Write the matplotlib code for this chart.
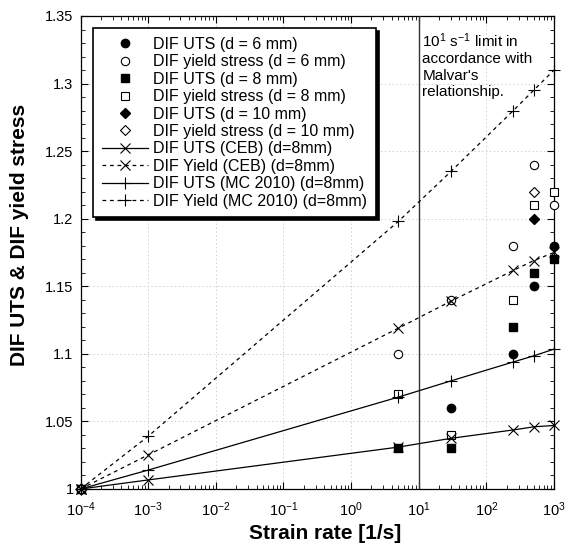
import numpy as np
import matplotlib
matplotlib.use("Agg")
import matplotlib.pyplot as plt
from matplotlib.ticker import FixedLocator, FixedFormatter, LogFormatterSciNotation, MultipleLocator

plt.rcParams["font.family"] = ["Liberation Sans", "DejaVu Sans"]
plt.rcParams["mathtext.fontset"] = "custom"
plt.rcParams["mathtext.rm"] = "Liberation Sans"
plt.rcParams["mathtext.it"] = "Liberation Sans:italic"
plt.rcParams["mathtext.bf"] = "Liberation Sans:bold"
plt.rcParams["mathtext.default"] = "regular"

# Experimental dynamic increase factors
uts6_rate = [1e-4, 30, 250, 500, 1000]
uts6_dif = [1.0, 1.06, 1.10, 1.15, 1.18]
yld6_rate = [1e-4, 5, 30, 250, 500, 1000]
yld6_dif = [1.0, 1.10, 1.14, 1.18, 1.24, 1.21]
uts8_rate = [1e-4, 5, 30, 250, 500, 1000]
uts8_dif = [1.0, 1.03, 1.03, 1.12, 1.16, 1.17]
yld8_rate = [1e-4, 5, 30, 250, 500, 1000]
yld8_dif = [1.0, 1.07, 1.04, 1.14, 1.21, 1.22]
uts10_rate = [1e-4, 500]
uts10_dif = [1.0, 1.20]
yld10_rate = [1e-4, 500]
yld10_dif = [1.0, 1.22]

# Code predictions (d = 8 mm)
model_rate = [1e-4, 1e-3, 5, 30, 250, 500, 1000]
ceb_uts = [1.0, 1.0067, 1.031, 1.0375, 1.0437, 1.046, 1.047]
ceb_yld = [1.0, 1.0252, 1.119, 1.139, 1.1617, 1.169, 1.175]
mc_uts = [1.0, 1.014, 1.068, 1.080, 1.094, 1.0985, 1.1035]
mc_yld = [1.0, 1.039, 1.198, 1.235, 1.280, 1.295, 1.310]

malvar_limit = 10.0

x_decades = [1e-4, 1e-3, 1e-2, 1e-1, 1e0, 1e1, 1e2, 1e3]
y_ticks = [1.0, 1.05, 1.1, 1.15, 1.2, 1.25, 1.3, 1.35]
y_tick_labels = ["1", "1.05", "1.1", "1.15", "1.2", "1.25", "1.3", "1.35"]

fig = plt.figure(figsize=(5.65, 5.46), dpi=100)
ax = fig.add_axes([0.1425, 0.1044, 0.838, 0.8663])

ms = 6
common = dict(color="black", clip_on=False, zorder=4)
ax.plot(uts6_rate, uts6_dif, linestyle="none", marker="o", ms=ms, mfc="black", mec="black",
        label="DIF UTS (d = 6 mm)", **common)
ax.plot(yld6_rate, yld6_dif, linestyle="none", marker="o", ms=ms, mfc="white", mec="black", mew=0.8,
        label="DIF yield stress (d = 6 mm)", **common)
ax.plot(uts8_rate, uts8_dif, linestyle="none", marker="s", ms=ms, mfc="black", mec="black",
        label="DIF UTS (d = 8 mm)", **common)
ax.plot(yld8_rate, yld8_dif, linestyle="none", marker="s", ms=ms, mfc="white", mec="black", mew=0.8,
        label="DIF yield stress (d = 8 mm)", **common)
ax.plot(uts10_rate, uts10_dif, linestyle="none", marker="D", ms=5, mfc="black", mec="black",
        label="DIF UTS (d = 10 mm)", **common)
ax.plot(yld10_rate, yld10_dif, linestyle="none", marker="D", ms=5, mfc="white", mec="black", mew=0.8,
        label="DIF yield stress (d = 10 mm)", **common)

dash = (0, (3, 3))
ax.plot(model_rate, ceb_uts, linestyle="-", lw=0.9, marker="x", ms=7, mew=0.8,
        label="DIF UTS (CEB) (d=8mm)", **common)
ax.plot(model_rate, ceb_yld, linestyle=dash, lw=0.9, marker="x", ms=7, mew=0.8,
        label="DIF Yield (CEB) (d=8mm)", **common)
ax.plot(model_rate, mc_uts, linestyle="-", lw=0.9, marker="+", ms=8, mew=0.8,
        label="DIF UTS (MC 2010) (d=8mm)", **common)
ax.plot(model_rate, mc_yld, linestyle=dash, lw=0.9, marker="+", ms=8, mew=0.8,
        label="DIF Yield (MC 2010) (d=8mm)", **common)

ax.axvline(malvar_limit, color="#333333", lw=1.0, zorder=3)

ax.set_xscale("log")
ax.set_xlim(1e-4, 1e3)
ax.set_ylim(1.0, 1.35)

# Only ticks inside the visible decade range
minor_x = [d * m for d in x_decades[:-1] for m in range(2, 10)]
ax.xaxis.set_major_locator(FixedLocator(x_decades))
ax.xaxis.set_major_formatter(LogFormatterSciNotation())
ax.xaxis.set_minor_locator(FixedLocator(minor_x))
ax.xaxis.set_minor_formatter(FixedFormatter([""] * len(minor_x)))
ax.yaxis.set_major_locator(FixedLocator(y_ticks))
ax.yaxis.set_major_formatter(FixedFormatter(y_tick_labels))
ax.yaxis.set_minor_locator(MultipleLocator(0.01))

ax.tick_params(which="both", direction="in", top=True, right=True, labelsize=10.5, colors="black")
ax.tick_params(which="major", length=5, width=0.8, pad=5)
ax.tick_params(axis="x", which="major", pad=8)
ax.tick_params(which="minor", length=3, width=0.6)
ax.grid(True, which="major", color="#cfcfcf", linestyle=(0, (1.5, 2.5)), lw=0.7)
ax.set_axisbelow(True)
for s in ax.spines.values():
    s.set_linewidth(0.9)

ax.set_xlabel("Strain rate [1/s]", fontsize=15, fontweight="bold")
ax.set_ylabel("DIF UTS & DIF yield stress", fontsize=15, fontweight="bold")
ax.xaxis.set_label_coords(0.516, -0.075)
ax.yaxis.set_label_coords(-0.108, 0.537)

ax.text(0.722, 0.968, "10$^{1}$ s$^{-1}$ limit in\naccordance with\nMalvar's\nrelationship.",
        transform=ax.transAxes, ha="left", va="top", fontsize=11, linespacing=1.22)

leg = ax.legend(loc="upper left", bbox_to_anchor=(0.027, 0.974), borderaxespad=0,
                fontsize=11.5, numpoints=1, handlelength=2.9, handletextpad=0.3,
                labelspacing=0.15, borderpad=0.55, fancybox=False, framealpha=1,
                edgecolor="black", shadow={"color": "black", "alpha": 1.0})
leg.get_frame().set_linewidth(1.2)

fig.savefig("out.png", dpi=100)
